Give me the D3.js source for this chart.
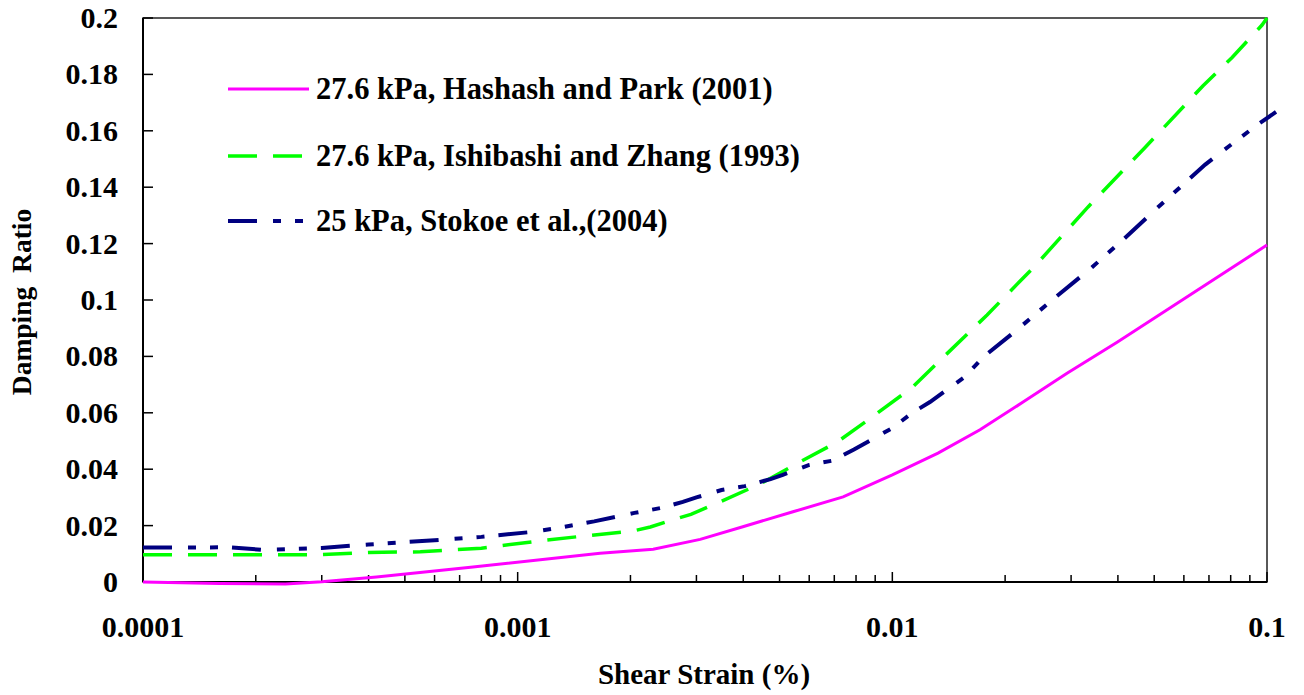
<!DOCTYPE html>
<html>
  <head>
    <meta charset="utf-8">
    <script src="https://d3js.org/d3.v7.min.js"></script>
    <title>Damping Ratio</title>
    <style>
      body { margin: 0; background: #fff; }
      text { font-family: "Liberation Serif", "Times New Roman", serif; font-weight: bold; fill: #000; }
    </style>
  </head>
  <body>
  <script>
    // strain (%) values and damping ratios
    var hashashStrain = [0.0001, 0.00016, 0.00024, 0.0003, 0.00042, 0.00076, 0.00166, 0.0023, 0.00307, 0.00399,
                         0.00543, 0.00739, 0.01, 0.01324, 0.01714, 0.02233, 0.02926, 0.0398, 0.1];
    var hashashDamping = [0, -0.0005, -0.0007, 0.0001, 0.0018, 0.0053, 0.0102, 0.0116, 0.0151, 0.0196,
                          0.0249, 0.0302, 0.038, 0.0457, 0.054, 0.0638, 0.074, 0.085, 0.1195];

    var ishibashiStrain = [0.0001, 0.0003, 0.0004, 0.00055, 0.0008, 0.0011, 0.0015, 0.00202, 0.00226, 0.00263,
                           0.0029, 0.00347, 0.00444, 0.0056, 0.00712, 0.00883, 0.0113, 0.0137, 0.0179, 0.024,
                           0.0333, 0.0472, 0.0675, 0.0807, 0.097, 0.1];
    var ishibashiDamping = [0.0097, 0.0097, 0.0105, 0.0107, 0.012, 0.0143, 0.0163, 0.018, 0.0195, 0.0223,
                            0.024, 0.0284, 0.0348, 0.0422, 0.0496, 0.0585, 0.069, 0.0798, 0.0947, 0.112,
                            0.133, 0.154, 0.176, 0.186, 0.1975, 0.2];

    var stokoeStrain = [0.0001, 0.00017, 0.00021, 0.0003, 0.0004, 0.0006, 0.0008, 0.0011, 0.0013, 0.0016,
                        0.00205, 0.0024, 0.00276, 0.003, 0.0035, 0.00404, 0.00473, 0.0051, 0.006, 0.0069,
                        0.0079, 0.01, 0.0113, 0.0126, 0.0156, 0.0175, 0.0215, 0.0267, 0.0337, 0.041,
                        0.0509, 0.0684, 0.0764, 0.094, 0.1057];
    var stokoeDamping = [0.0122, 0.0123, 0.0114, 0.0121, 0.0133, 0.0148, 0.016, 0.0178, 0.0193, 0.0215,
                         0.0245, 0.0262, 0.0284, 0.030, 0.0326, 0.034, 0.0365, 0.038, 0.0415, 0.043,
                         0.047, 0.0546, 0.060, 0.0638, 0.0727, 0.0798, 0.0894, 0.100, 0.111, 0.121,
                         0.1326, 0.148, 0.153, 0.162, 0.1667];

    var seriesNames = ["27.6 kPa, Hashash and Park (2001)",
                       "27.6 kPa, Ishibashi and Zhang (1993)",
                       "25 kPa, Stokoe et al.,(2004)"];

    var xTicks = [0.0001, 0.001, 0.01, 0.1];
    var xTickLabels = ["0.0001", "0.001", "0.01", "0.1"];
    var yTicks = [0, 0.02, 0.04, 0.06, 0.08, 0.1, 0.12, 0.14, 0.16, 0.18, 0.2];
    var yTickLabels = ["0", "0.02", "0.04", "0.06", "0.08", "0.1", "0.12", "0.14", "0.16", "0.18", "0.2"];

    var width = 1304, height = 695;
    var margin = {left: 143, right: 37, top: 18, bottom: 113};

    var svg = d3.select("body").append("svg")
                .attr("width", width)
                .attr("height", height);

    var x = d3.scaleLog().domain([0.0001, 0.1]).range([margin.left, width - margin.right]);
    var y = d3.scaleLinear().domain([0, 0.2]).range([height - margin.bottom, margin.top]);

    // plot frame
    svg.append("rect")
       .attr("x", x(0.0001))
       .attr("y", y(0.2))
       .attr("width", x(0.1) - x(0.0001))
       .attr("height", y(0) - y(0.2))
       .style("fill", "none")
       .style("stroke", "#222")
       .style("stroke-width", 1.5);

    // minor ticks for the log axis
    var minorTicks = [];
    xTicks.slice(0, -1).forEach(function(d){
      for (var k = 2; k <= 9; k++) minorTicks.push(d * k);
    });

    svg.selectAll(".xminor")
       .data(minorTicks)
       .enter().append("line")
       .attr("class", "xminor")
       .attr("x1", function(d){ return x(d); })
       .attr("x2", function(d){ return x(d); })
       .attr("y1", y(0))
       .attr("y2", y(0) - 7)
       .style("stroke", "#000")
       .style("stroke-width", 1.5);

    svg.selectAll(".xmajor")
       .data(xTicks)
       .enter().append("line")
       .attr("class", "xmajor")
       .attr("x1", function(d){ return x(d); })
       .attr("x2", function(d){ return x(d); })
       .attr("y1", y(0))
       .attr("y2", y(0) - 10)
       .style("stroke", "#000")
       .style("stroke-width", 1.5);

    svg.selectAll(".xlabel")
       .data(xTicks)
       .enter().append("text")
       .attr("class", "xlabel")
       .attr("x", function(d){ return x(d); })
       .attr("y", 637)
       .attr("text-anchor", "middle")
       .style("font-size", "30px")
       .text(function(d, i){ return xTickLabels[i]; });

    svg.selectAll(".ytick")
       .data(yTicks)
       .enter().append("line")
       .attr("class", "ytick")
       .attr("x1", x(0.0001))
       .attr("x2", x(0.0001) + 10)
       .attr("y1", function(d){ return y(d); })
       .attr("y2", function(d){ return y(d); })
       .style("stroke", "#000")
       .style("stroke-width", 1.5);

    svg.selectAll(".ylabel")
       .data(yTicks)
       .enter().append("text")
       .attr("class", "ylabel")
       .attr("x", 118)
       .attr("y", function(d){ return y(d) + 10; })
       .attr("text-anchor", "end")
       .style("font-size", "30px")
       .text(function(d, i){ return yTickLabels[i]; });

    // axis lines
    svg.append("line")
       .attr("x1", x(0.0001)).attr("x2", x(0.0001))
       .attr("y1", y(0.2)).attr("y2", y(0))
       .style("stroke", "#000").style("stroke-width", 2);
    svg.append("line")
       .attr("x1", x(0.0001)).attr("x2", x(0.1))
       .attr("y1", y(0)).attr("y2", y(0))
       .style("stroke", "#000").style("stroke-width", 2);

    // axis titles
    svg.append("text")
       .attr("x", 704)
       .attr("y", 684)
       .attr("text-anchor", "middle")
       .style("font-size", "29px")
       .text("Shear Strain (%)");

    svg.append("text")
       .attr("transform", "translate(31,302) rotate(-90)")
       .attr("text-anchor", "middle")
       .style("font-size", "27.5px")
       .style("white-space", "pre")
       .text("Damping  Ratio");

    // series
    var series = [
      {strain: hashashStrain, damping: hashashDamping, color: "#ff00ff", dash: null, width: 3},
      {strain: ishibashiStrain, damping: ishibashiDamping, color: "#00ff00", dash: "29,16", width: 3.5},
      {strain: stokoeStrain, damping: stokoeDamping, color: "#000080", dash: "29,16,8,14,8,14", width: 4}
    ];

    var line = d3.line()
                 .x(function(d){ return x(d[0]); })
                 .y(function(d){ return y(d[1]); });

    series.forEach(function(s){
      svg.append("path")
         .datum(d3.zip(s.strain, s.damping))
         .attr("d", line)
         .style("fill", "none")
         .style("stroke", s.color)
         .style("stroke-width", s.width)
         .style("stroke-dasharray", s.dash);
    });

    // legend
    var legendY = [89, 156, 221];
    series.forEach(function(s, i){
      svg.append("line")
         .attr("x1", 228).attr("x2", s.dash ? 303 : 309)
         .attr("y1", legendY[i]).attr("y2", legendY[i])
         .style("stroke", s.color)
         .style("stroke-width", s.width)
         .style("stroke-dasharray", s.dash);
      svg.append("text")
         .attr("x", 316)
         .attr("y", legendY[i] + 10)
         .style("font-size", "30.5px")
         .text(seriesNames[i]);
    });
  </script>
</body>
</html>
